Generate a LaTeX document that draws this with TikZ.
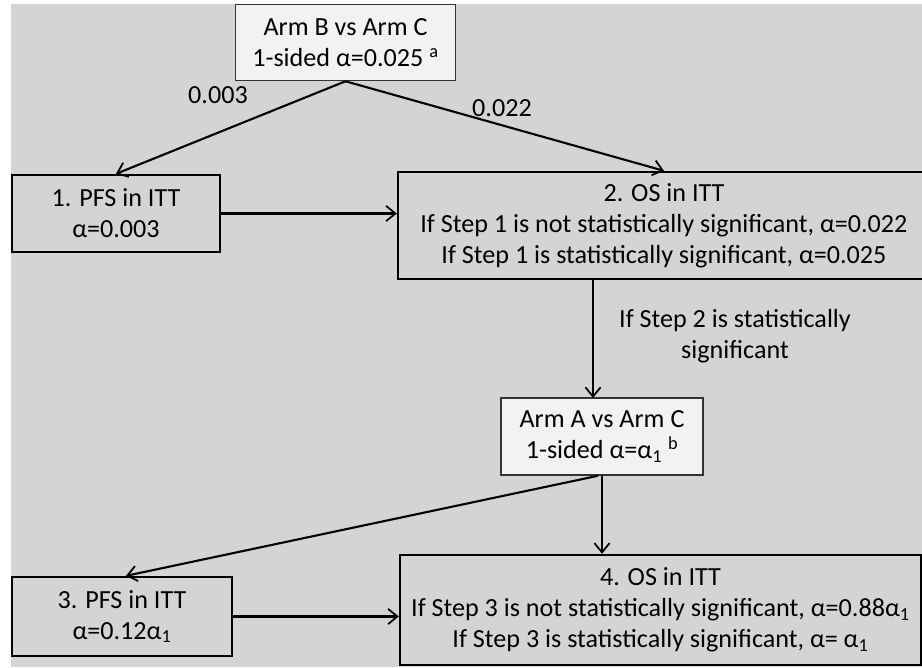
\documentclass[tikz,border=0pt]{standalone}
\usepackage{fontspec}
\setmainfont{Carlito}
\usepackage{tikz}
\usetikzlibrary{arrows.meta,positioning}
\definecolor{bggray}{RGB}{212,212,212}
\definecolor{boxwhite}{RGB}{242,242,242}

\begin{document}
\begin{tikzpicture}[
    x=0.03cm, y=-0.03cm,
    >={Straight Barb[length=8pt,width=13pt,line width=1.5pt]},
    font=\fontsize{22.3}{26.5}\selectfont,
    stepbox/.style={
		rectangle,
		draw=black,
		line width=2pt,
		text centered,
		align=center,
		inner sep=0pt
	},
	armbox/.style={
		stepbox,
		draw=black!80,
		line width=1.3pt,
		fill=boxwhite
	},
	lbl/.style={
		inner sep=1pt,
		align=center
	},
	link/.style={
		->,
		line width=1.8pt
	}
  ]
    % background of the slide
  \useasboundingbox (0,0) rectangle (922,667);
  \fill [bggray] (11,4) rectangle (922,667);

    % first comparison
  \node [armbox, minimum width=6.6cm, minimum height=2.28cm] (armB) at (345.5,42.5)
 {Arm B vs Arm C\\1-sided α=0.025 \textsuperscript{a}};

  \node [stepbox, minimum width=6.24cm, minimum height=2.31cm] (pfs1) at (116,213.5)
 {1. PFS in ITT\\α=0.003};

  \node [stepbox, minimum width=15.96cm, minimum height=3.21cm] (os2) at (664,225.5)
 {2. OS in ITT\\
  If Step 1 is not statistically significant, α=0.022\\
  If Step 1 is statistically significant, α=0.025};

    % second comparison
  \node [armbox, minimum width=6.06cm, minimum height=2.31cm] (armA) at (602,436.5)
 {Arm A vs Arm C\\1-sided α=α\textsubscript{1} \textsuperscript{b}};

  \node [stepbox, minimum width=6.6cm, minimum height=2.37cm] (pfs3) at (122,616.5)
 {3. PFS in ITT\\α=0.12α\textsubscript{1}};

  \node [stepbox, minimum width=15.63cm, minimum height=3.3cm] (os4) at (660.5,610)
 {4. OS in ITT\\
  If Step 3 is not statistically significant, α=0.88α\textsubscript{1}\\
  If Step 3 is statistically significant, α= α\textsubscript{1}};

    % labels
  \node [lbl] (w1) at (218,95) {0.003};
  \node [lbl] (w2) at (502,108) {0.022};
  \node [lbl] (cond) at (735,336) {If Step 2 is statistically\\significant};

  \coordinate (os2out) at (593,279);
  \coordinate (armAin) at (593,398);

    % connectors
  \draw [link] (armB.south) -- (pfs1.north);
  \draw [link] (armB.south) -- (os2.north);
  \draw [link] (pfs1.east) -- (pfs1.east -| os2.west);
  \draw [link] (os2out) -- (armAin);
  \draw [link] ([xshift=-0.12cm]armA.south) -- ([xshift=0.12cm]pfs3.north);
  \draw [link] (armA.south) -- (armA.south |- os4.north);
  \draw [link] (pfs3.east) -- (pfs3.east -| os4.west);

\end{tikzpicture}
\end{document}
